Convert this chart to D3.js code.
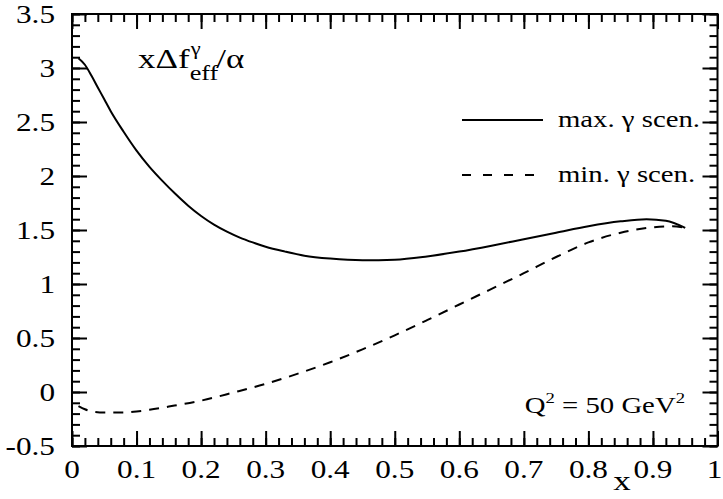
<!DOCTYPE html>
<html>
<head>
<meta charset="utf-8">
<script src="https://cdn.jsdelivr.net/npm/d3@7"></script>
<style>
  body { margin: 0; background: #fff; }
  svg text { font-family: "Liberation Serif", "Times New Roman", serif; fill: #000; }
  .axis path { display: none; }
  .axis line { stroke: #000; stroke-width: 2; }
</style>
</head>
<body>
<div id="chart"></div>
<script>
// values
const xMax = [0.01, 0.02, 0.03, 0.04, 0.05, 0.06, 0.08, 0.10, 0.12, 0.14, 0.16, 0.18, 0.20,
  0.22, 0.24, 0.26, 0.28, 0.30, 0.33, 0.36, 0.40, 0.45, 0.50, 0.55, 0.60, 0.65, 0.70,
  0.75, 0.80, 0.85, 0.89, 0.92, 0.95];
const yMax = [3.09, 3.03, 2.93, 2.82, 2.71, 2.60, 2.41, 2.235, 2.085, 1.955, 1.835, 1.725, 1.63,
  1.55, 1.485, 1.43, 1.385, 1.345, 1.30, 1.262, 1.235, 1.22, 1.225, 1.255, 1.30, 1.355, 1.415,
  1.475, 1.535, 1.58, 1.60, 1.585, 1.52];

const xMin = [0.01, 0.02, 0.03, 0.05, 0.08, 0.10, 0.12, 0.15, 0.20, 0.25, 0.30, 0.35, 0.40,
  0.45, 0.50, 0.55, 0.60, 0.65, 0.70, 0.75, 0.80, 0.85, 0.90, 0.93, 0.95];
const yMin = [-0.13, -0.16, -0.18, -0.19, -0.19, -0.18, -0.165, -0.135, -0.08, -0.005, 0.075,
  0.17, 0.275, 0.395, 0.525, 0.665, 0.81, 0.955, 1.10, 1.25, 1.385, 1.475, 1.525, 1.535, 1.52];

const xTicks = [0, 0.1, 0.2, 0.3, 0.4, 0.5, 0.6, 0.7, 0.8, 0.9, 1];
const xTickLabels = ["0", "0.1", "0.2", "0.3", "0.4", "0.5", "0.6", "0.7", "0.8", "0.9", "1"];
const yTicks = [-0.5, 0, 0.5, 1, 1.5, 2, 2.5, 3, 3.5];
const yTickLabels = ["-0.5", "0", "0.5", "1", "1.5", "2", "2.5", "3", "3.5"];

const legendLabels = ["max. \u03b3 scen.", "min. \u03b3 scen."];

const W = 723, H = 499;
const margin = { top: 14, right: 5.5, bottom: 53, left: 72 },
  width = W - margin.left - margin.right,
  height = H - margin.top - margin.bottom;
const stretch = 1.25; // the original glyphs are wider than normal Times

const x = d3.scaleLinear().domain([0, 1]).range([0, width]);
const y = d3.scaleLinear().domain([-0.5, 3.5]).range([height, 0]);

const svg = d3.select("#chart").append("svg")
  .attr("width", W)
  .attr("height", H)
  .append("g")
  .attr("transform", "translate(" + margin.left + "," + margin.top + ")");

const xMinor = d3.range(0, 1.0001, 0.02);
const yMinor = d3.range(-0.5, 3.5001, 0.1);

// ticks on all four sides, pointing inwards
const addTicks = (axisFn, scale, values, len, tf) => {
  svg.append("g")
    .attr("class", "axis")
    .attr("transform", tf)
    .call(axisFn(scale).tickValues(values).tickSize(-len).tickFormat(""));
};
addTicks(d3.axisBottom, x, xMinor, 8, "translate(0," + height + ")");
addTicks(d3.axisBottom, x, xTicks, 15, "translate(0," + height + ")");
addTicks(d3.axisTop, x, xMinor, 8, "translate(0,0)");
addTicks(d3.axisTop, x, xTicks, 15, "translate(0,0)");
addTicks(d3.axisLeft, y, yMinor, 8, "translate(0,0)");
addTicks(d3.axisLeft, y, yTicks, 15, "translate(0,0)");
addTicks(d3.axisRight, y, yMinor, 8, "translate(" + width + ",0)");
addTicks(d3.axisRight, y, yTicks, 15, "translate(" + width + ",0)");

svg.append("rect")
  .attr("width", width)
  .attr("height", height)
  .attr("fill", "none")
  .attr("stroke", "#000")
  .attr("stroke-width", 2);

const stretchedText = (px, py, str, size, anchor) => {
  return svg.append("text")
    .attr("transform", "translate(" + px + "," + py + ") scale(" + stretch + ",1)")
    .attr("font-size", size)
    .style("text-anchor", anchor || "start")
    .text(str);
};

xTicks.forEach((v, i) => {
  // the last label sits right at the page edge, keep it inside
  const px = i === xTicks.length - 1 ? x(v) - 3 : x(v);
  stretchedText(px, height + 32, xTickLabels[i], 25, "middle");
});
yTicks.forEach((v, i) => {
  stretchedText(-17, y(v) + 9, yTickLabels[i], 25, "end");
});

stretchedText(x(0.852), height + 44, "x", 28, "middle");

// curves
const line = d3.line()
  .x(d => x(d[0]))
  .y(d => y(d[1]))
  .curve(d3.curveMonotoneX);

svg.append("path")
  .datum(xMax.map((v, i) => [v, yMax[i]]))
  .attr("d", line)
  .attr("fill", "none")
  .attr("stroke", "#000")
  .attr("stroke-width", 2);

svg.append("path")
  .datum(xMin.map((v, i) => [v, yMin[i]]))
  .attr("d", line)
  .attr("fill", "none")
  .attr("stroke", "#000")
  .attr("stroke-width", 2)
  .attr("stroke-dasharray", "10,8");

// legend
const legY = [106, 161];
legendLabels.forEach((lab, i) => {
  svg.append("line")
    .attr("x1", 462 - margin.left).attr("x2", 543 - margin.left)
    .attr("y1", legY[i]).attr("y2", legY[i])
    .attr("stroke", "#000")
    .attr("stroke-width", 2)
    .attr("stroke-dasharray", i === 1 ? "9,12" : null);
  stretchedText(558 - margin.left, legY[i] + 7, lab, 23);
});

// title  x Δ f ^γ _eff / α
const t0 = stretchedText(138 - margin.left, 54, "x\u0394f", 28);
const w0 = t0.node().getComputedTextLength() * stretch;
const tx = 138 - margin.left + w0;
stretchedText(tx + 1, 41, "\u03b3", 18);
const te = stretchedText(tx, 66, "eff", 21);
const we = te.node().getComputedTextLength() * stretch;
stretchedText(tx + we - 2, 54, "/\u03b1", 28);

// Q^2 label
const q = svg.append("text")
  .attr("transform", "translate(" + (685 - margin.left) + "," + (413 - margin.top) + ") scale(" + stretch + ",1)")
  .attr("font-size", 23)
  .style("text-anchor", "end");
q.append("tspan").text("Q");
q.append("tspan").attr("font-size", 15).attr("dy", -10).text("2");
q.append("tspan").attr("dy", 10).text(" = 50 GeV");
q.append("tspan").attr("font-size", 15).attr("dy", -10).text("2");
</script>
</body>
</html>
